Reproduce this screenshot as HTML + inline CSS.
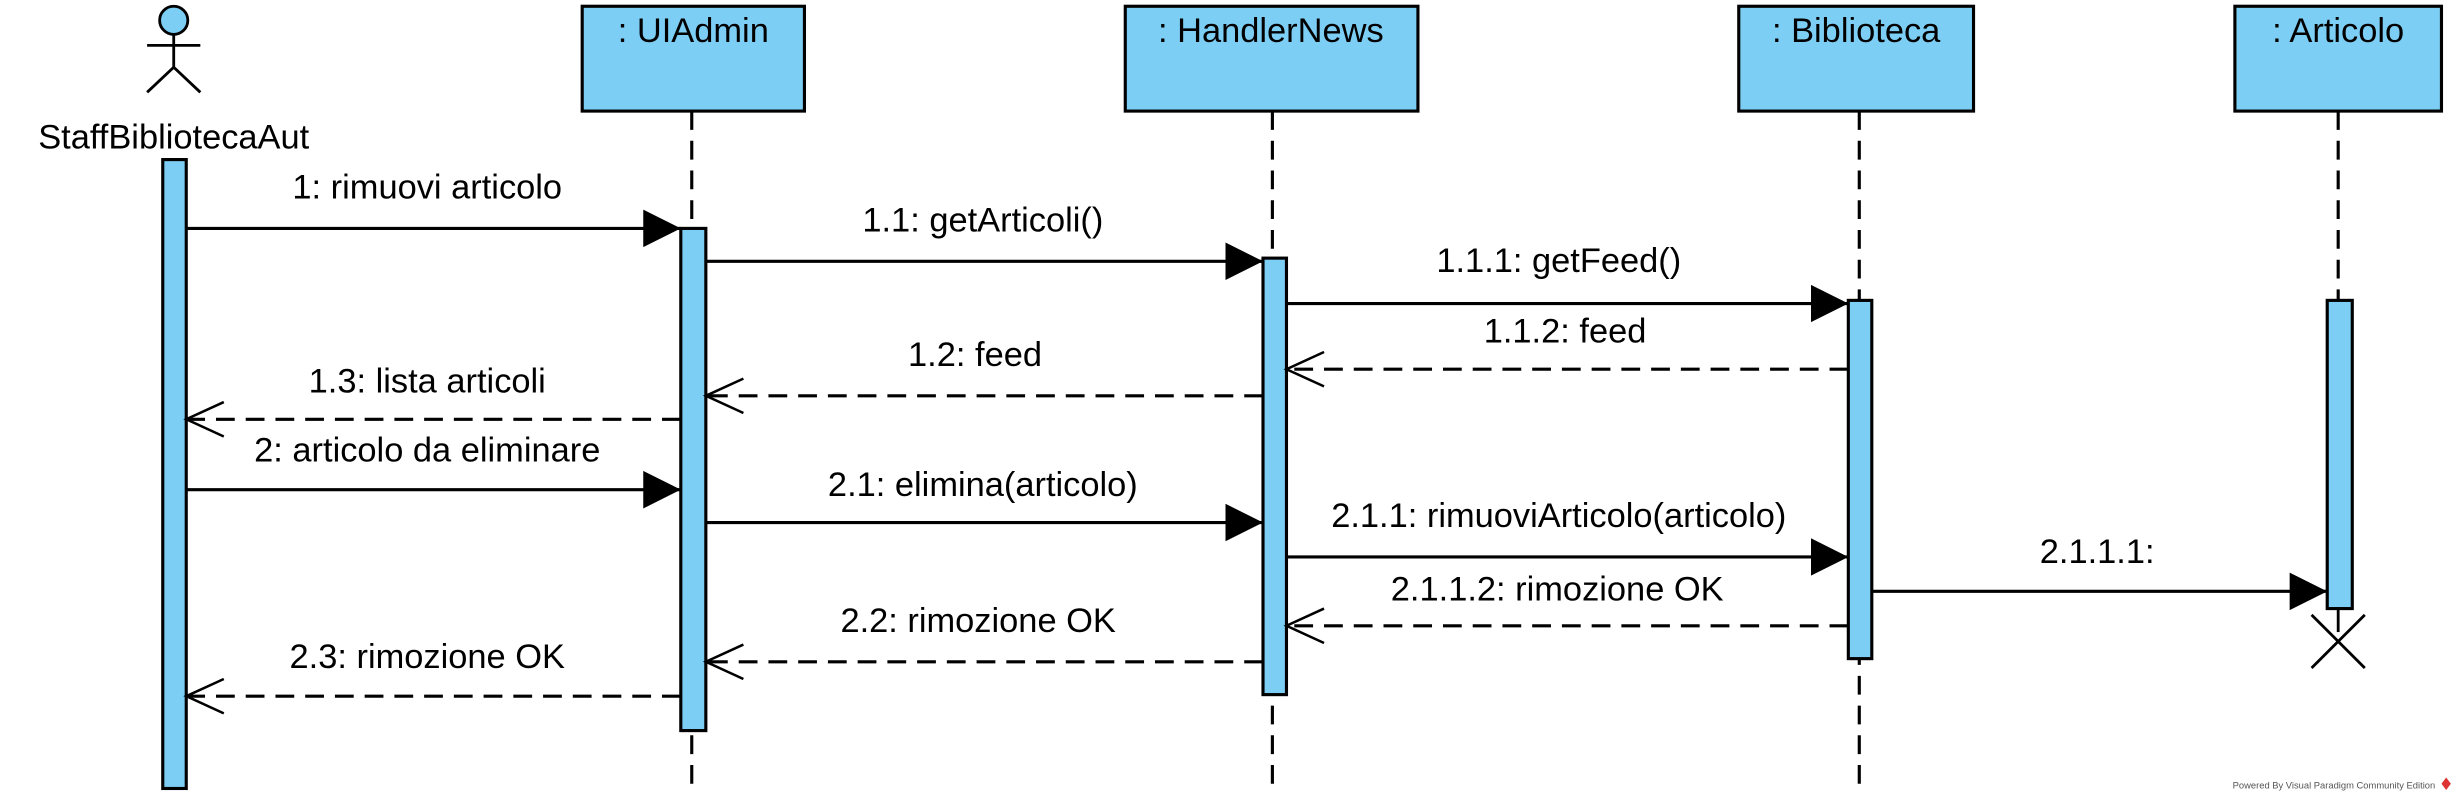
<!DOCTYPE html>
<html><head><meta charset="utf-8"><style>html,body{margin:0;padding:0;background:#fff}svg{display:block}text{font-family:"Liberation Sans",sans-serif;font-size:22px;fill:#000}</style></head>
<body>
<svg width="2454" height="801" viewBox="0 0 1568 512" preserveAspectRatio="none" xmlns="http://www.w3.org/2000/svg">
<defs>
<marker id="f" markerWidth="26" markerHeight="26" refX="24" refY="12" orient="auto" markerUnits="userSpaceOnUse"><path d="M0,0 L24,12 L0,24 Z" fill="#000"/></marker>
<marker id="o" markerWidth="28" markerHeight="26" refX="25" refY="12" orient="auto" markerUnits="userSpaceOnUse"><path d="M1,1 L25,12 L1,23" fill="none" stroke="#000" stroke-width="1.6"/></marker>
</defs>
<g stroke="#000" stroke-width="2" fill="#7dcef4">
<rect x="372" y="4" width="142" height="67"/>
<rect x="719" y="4" width="187" height="67"/>
<rect x="1111" y="4" width="150" height="67"/>
<rect x="1428" y="4" width="132" height="67"/>
</g>
<g stroke="#000" stroke-width="2" stroke-dasharray="12,7">
<line x1="442" y1="71" x2="442" y2="507"/>
<line x1="813" y1="71" x2="813" y2="507"/>
<line x1="1188" y1="71" x2="1188" y2="507"/>
<line x1="1494" y1="71" x2="1494" y2="192"/>
</g>
<circle cx="111" cy="13" r="9" fill="#7dcef4" stroke="#000" stroke-width="1.8"/>
<g stroke="#000" stroke-width="1.8" fill="none">
<line x1="111" y1="22" x2="111" y2="43"/><line x1="94" y1="29" x2="128" y2="29"/>
<line x1="111" y1="43" x2="94" y2="59"/><line x1="111" y1="43" x2="128" y2="59"/>
</g>
<text x="111" y="95" text-anchor="middle">StaffBibliotecaAut</text>
<text x="443" y="27" text-anchor="middle">: UIAdmin</text>
<text x="812" y="27" text-anchor="middle">: HandlerNews</text>
<text x="1186" y="27" text-anchor="middle">: Biblioteca</text>
<text x="1494" y="27" text-anchor="middle">: Articolo</text>
<g stroke="#000" stroke-width="2" fill="#7dcef4">
<rect x="104" y="102" width="15" height="402"/>
<rect x="435" y="146" width="16" height="321"/>
<rect x="807" y="165" width="15" height="279"/>
<rect x="1181" y="192" width="15" height="229"/>
<rect x="1487" y="192" width="16" height="197"/>
</g>
<g stroke="#000" stroke-width="1.8"><line x1="1494" y1="389" x2="1494" y2="404"/><line x1="1477" y1="393" x2="1511" y2="427"/><line x1="1511" y1="393" x2="1477" y2="427"/></g>
<g stroke="#000" stroke-width="2" fill="none">
<line x1="119" y1="146" x2="435" y2="146" marker-end="url(#f)"/>
<line x1="451" y1="167" x2="807" y2="167" marker-end="url(#f)"/>
<line x1="822" y1="194" x2="1181" y2="194" marker-end="url(#f)"/>
<line x1="119" y1="313" x2="435" y2="313" marker-end="url(#f)"/>
<line x1="451" y1="334" x2="807" y2="334" marker-end="url(#f)"/>
<line x1="822" y1="356" x2="1181" y2="356" marker-end="url(#f)"/>
<line x1="1196" y1="378" x2="1487" y2="378" marker-end="url(#f)"/>
</g>
<g stroke="#000" stroke-width="2" fill="none" stroke-dasharray="12,7">
<line x1="1181" y1="236" x2="822" y2="236" marker-end="url(#o)"/>
<line x1="807" y1="253" x2="451" y2="253" marker-end="url(#o)"/>
<line x1="435" y1="268" x2="119" y2="268" marker-end="url(#o)"/>
<line x1="1181" y1="400" x2="822" y2="400" marker-end="url(#o)"/>
<line x1="807" y1="423" x2="451" y2="423" marker-end="url(#o)"/>
<line x1="435" y1="445" x2="119" y2="445" marker-end="url(#o)"/>
</g>
<g text-anchor="middle">
<text x="273" y="127">1: rimuovi articolo</text>
<text x="628" y="148">1.1: getArticoli()</text>
<text x="996" y="174">1.1.1: getFeed()</text>
<text x="1000" y="219">1.1.2: feed</text>
<text x="623" y="234">1.2: feed</text>
<text x="273" y="251">1.3: lista articoli</text>
<text x="273" y="295">2: articolo da eliminare</text>
<text x="628" y="317">2.1: elimina(articolo)</text>
<text x="996" y="337">2.1.1: rimuoviArticolo(articolo)</text>
<text x="1340" y="360">2.1.1.1:</text>
<text x="995" y="384">2.1.1.2: rimozione OK</text>
<text x="625" y="404">2.2: rimozione OK</text>
<text x="273" y="427">2.3: rimozione OK</text>
</g>
<text x="1556" y="504" text-anchor="end" style="font-size:6px;fill:#555">Powered By Visual Paradigm Community Edition</text>
<path d="M1563,497 l3,4 l-3,4 l-3,-4 z" fill="#d33"/>
</svg>
</body></html>
